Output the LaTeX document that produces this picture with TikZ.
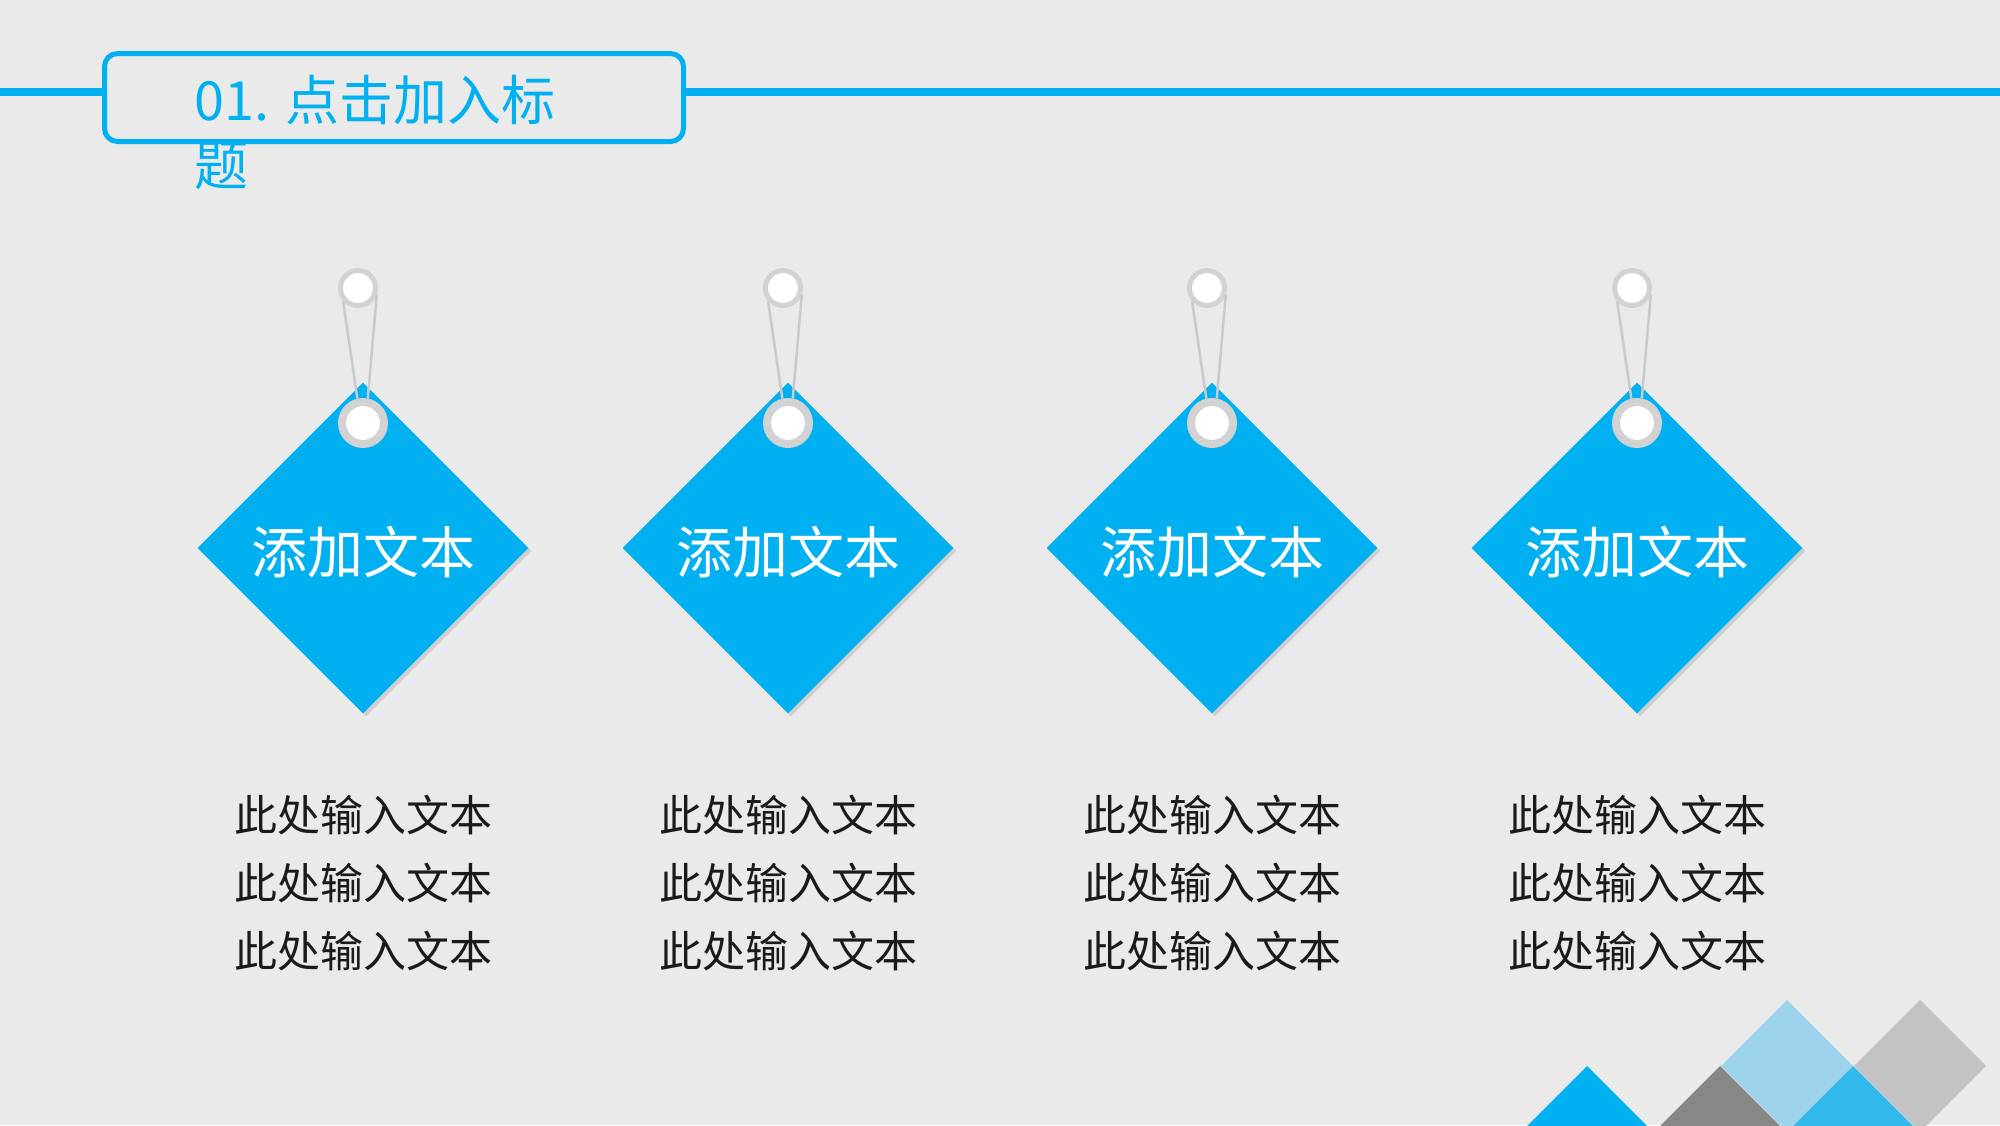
\documentclass[tikz,border=0pt]{standalone}
\usepackage{fontspec}
\newfontfamily\cjk{Noto Sans CJK SC}
\usetikzlibrary{shapes.geometric,shadows}
\definecolor{paper}{HTML}{EAEAEA}
\definecolor{tagblue}{HTML}{00B0F0}
\definecolor{skyblue}{HTML}{9DD4EC}
\definecolor{brightblue}{HTML}{33BAEA}
\definecolor{darkgrey}{HTML}{878787}
\definecolor{softgrey}{HTML}{C3C3C3}
\definecolor{ringgrey}{HTML}{D2D2D2}
\definecolor{stringgrey}{HTML}{CACACA}
\definecolor{bodyink}{HTML}{1A1A1A}

\begin{document}
\begin{tikzpicture}[x=1pt,y=-1pt,
  tag/.style={diamond, aspect=1, minimum size=331pt, inner sep=0pt, fill=tagblue,
    text=white, font=\cjk\fontsize{56}{60}\selectfont,
    drop shadow={shadow xshift=3pt, shadow yshift=-3pt, opacity=.25}},
  pin/.style={circle, minimum size=35pt, inner sep=0pt, fill=white, draw=ringgrey,
    line width=5pt, drop shadow={shadow xshift=0pt, shadow yshift=-2pt, opacity=.15}},
  hole/.style={circle, minimum size=42pt, inner sep=0pt, fill=white, draw=ringgrey, line width=8pt},
  string/.style={draw=stringgrey, line width=2.5pt},
  body/.style={anchor=north, inner sep=0pt, align=center, text=bodyink,
    font=\cjk\fontsize{43}{68}\selectfont},
  headline/.style={draw=tagblue, line width=8pt}]
\useasboundingbox (0,0) rectangle (2000,1125);
\fill[paper] (0,0) rectangle (2000,1125);

% header
\node[draw=tagblue, line width=5pt, rounded corners=13pt, minimum width=579pt,
  minimum height=88pt, inner sep=0pt] (titlebox) at (394,97.5) {};
\coordinate (lineL) at (0,92);
\coordinate (lineR) at (2000,92);
\draw[headline] (lineL) -- (lineL -| titlebox.west);
\draw[headline] (titlebox.east |- lineR) -- (lineR);
\node[anchor=north west, inner sep=0pt, align=left, text=tagblue,
  font=\cjk\fontsize{54}{65}\selectfont] (title) at (194,75) {01. 点击加入标\\题};

% tag 1
\node[tag] (tagA) at (363,548) {\raisebox{-4pt}[\height][\depth]{添加文本}};
\node[pin] (pinA) at (358,288) {};
\node[hole] (holeA) at (363,423) {};
\draw[string] (pinA.222) -- (holeA.103);
\draw[string] (pinA.340) -- (holeA.79);
\node[body] (textA) at (363,795) {此处输入文本\\此处输入文本\\此处输入文本};

% tag 2
\node[tag] (tagB) at (788,548) {\raisebox{-4pt}[\height][\depth]{添加文本}};
\node[pin] (pinB) at (783,288) {};
\node[hole] (holeB) at (788,423) {};
\draw[string] (pinB.222) -- (holeB.103);
\draw[string] (pinB.340) -- (holeB.79);
\node[body] (textB) at (788,795) {此处输入文本\\此处输入文本\\此处输入文本};

% tag 3
\node[tag] (tagC) at (1212,548) {\raisebox{-4pt}[\height][\depth]{添加文本}};
\node[pin] (pinC) at (1207,288) {};
\node[hole] (holeC) at (1212,423) {};
\draw[string] (pinC.222) -- (holeC.103);
\draw[string] (pinC.340) -- (holeC.79);
\node[body] (textC) at (1212,795) {此处输入文本\\此处输入文本\\此处输入文本};

% tag 4
\node[tag] (tagD) at (1637,548) {\raisebox{-4pt}[\height][\depth]{添加文本}};
\node[pin] (pinD) at (1632,288) {};
\node[hole] (holeD) at (1637,423) {};
\draw[string] (pinD.222) -- (holeD.103);
\draw[string] (pinD.340) -- (holeD.79);
\node[body] (textD) at (1637,795) {此处输入文本\\此处输入文本\\此处输入文本};

% corner tiles
\begin{scope}
\clip (0,0) rectangle (2000,1125);
\fill[skyblue] (1787,1066) ++(0,-66) -- ++(66,66) -- ++(-66,66) -- ++(-66,-66) -- cycle;
\fill[softgrey] (1920,1066) ++(0,-66) -- ++(66,66) -- ++(-66,66) -- ++(-66,-66) -- cycle;
\fill[tagblue] (1587,1132) ++(0,-66) -- ++(66,66) -- ++(-66,66) -- ++(-66,-66) -- cycle;
\fill[darkgrey] (1720,1132) ++(0,-66) -- ++(66,66) -- ++(-66,66) -- ++(-66,-66) -- cycle;
\fill[brightblue] (1853,1132) ++(0,-66) -- ++(66,66) -- ++(-66,66) -- ++(-66,-66) -- cycle;
\end{scope}
\end{tikzpicture}
\end{document}
